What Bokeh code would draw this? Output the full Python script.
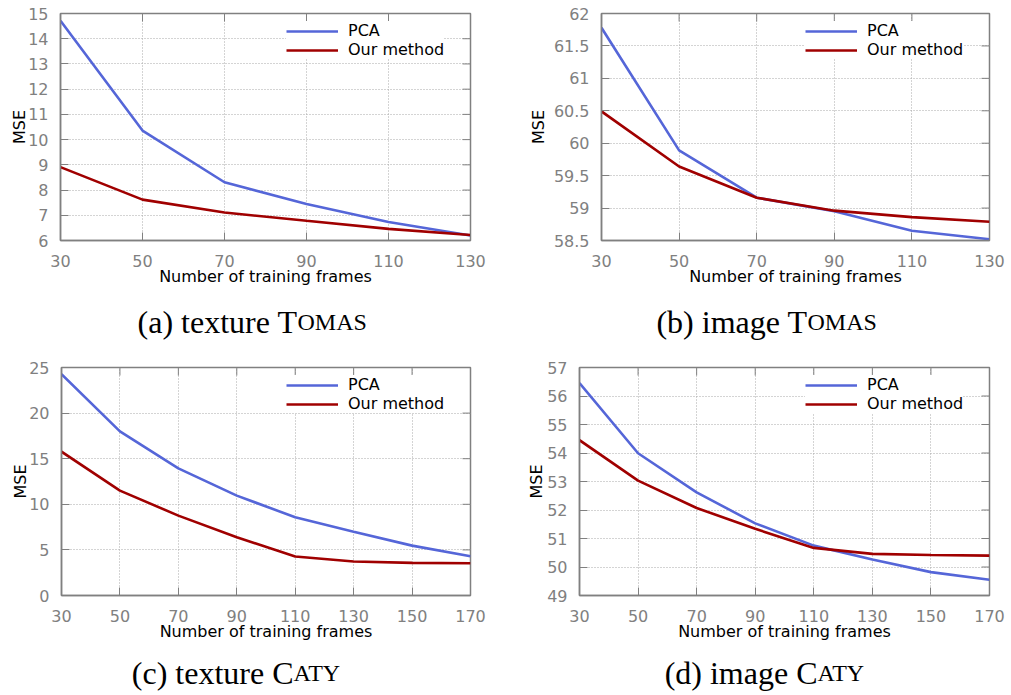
import math
from bokeh.plotting import figure
from bokeh.models import Range1d, FixedTicker
from bokeh.layouts import column, row
from bokeh.embed import file_html
from bokeh.resources import INLINE
from bokeh.core.properties import value

# ---------------- data ----------------
frames_tomas = [30, 50, 70, 90, 110, 130]
pca_tex_tomas = [14.71, 10.36, 8.31, 7.45, 6.73, 6.20]
our_tex_tomas = [8.91, 7.62, 7.11, 6.78, 6.46, 6.22]
pca_img_tomas = [61.78, 59.89, 59.16, 58.95, 58.65, 58.52]
our_img_tomas = [60.49, 59.64, 59.16, 58.96, 58.86, 58.79]

frames_caty = [30, 50, 70, 90, 110, 130, 150, 170]
pca_tex_caty = [24.27, 18.0, 13.94, 10.95, 8.58, 7.0, 5.47, 4.31]
our_tex_caty = [15.77, 11.5, 8.76, 6.39, 4.27, 3.72, 3.58, 3.54]
pca_img_caty = [56.45, 53.99, 52.62, 51.53, 50.75, 50.26, 49.82, 49.55]
our_img_caty = [54.45, 53.03, 52.07, 51.34, 50.67, 50.46, 50.42, 50.40]

xticks_tomas = [30, 50, 70, 90, 110, 130]
xticks_caty = [30, 50, 70, 90, 110, 130, 150, 170]
yticks_a = [6, 7, 8, 9, 10, 11, 12, 13, 14, 15]
yticks_b = [58.5, 59, 59.5, 60, 60.5, 61, 61.5, 62]
yticks_c = [0, 5, 10, 15, 20, 25]
yticks_d = [49, 50, 51, 52, 53, 54, 55, 56, 57]

series_names = ["PCA", "Our method"]
x_label = "Number of training frames"
y_label = "MSE"
captions = [("(a) texture T", "OMAS"), ("(b) image T", "OMAS"),
            ("(c) texture C", "ATY"), ("(d) image C", "ATY")]

BLUE = "#5566d8"
RED = "#a00000"
GRAY = "#808080"
SANS = "DejaVu Sans"


def fmt(v):
    return ("%g" % v)


def panel(xs, pca, ours, xticks, yticks, width, height, bl, br, bt, bb, ylab_sd):
    p = figure(width=width, height=height,
               x_range=Range1d(xticks[0], xticks[-1]),
               y_range=Range1d(yticks[0], yticks[-1]),
               output_backend="svg", toolbar_location=None,
               min_border_left=bl, min_border_right=br,
               min_border_top=bt, min_border_bottom=bb)
    p.background_fill_color = "white"
    p.border_fill_color = "white"
    p.outline_line_color = GRAY
    p.outline_line_width = 1.5

    xt = FixedTicker(ticks=xticks)
    yt = FixedTicker(ticks=yticks)

    for g, t in ((p.xgrid, xt), (p.ygrid, yt)):
        g.ticker = t
        g.grid_line_color = "#a8a8a8"
        g.grid_line_dash = "1 2"
        g.grid_line_width = 1

    # mirrored inward ticks on top and right edges (gnuplot style)
    p.ray(x=xticks, y=[yticks[-1]] * len(xticks), length=8, length_units="screen",
          angle=-math.pi / 2, line_color=GRAY, line_width=1)
    p.ray(x=[xticks[-1]] * len(yticks), y=yticks, length=8, length_units="screen",
          angle=math.pi, line_color=GRAY, line_width=1)

    p.line(xs, pca, color=BLUE, line_width=2.6, legend_label=series_names[0])
    p.line(xs, ours, color=RED, line_width=2.6, legend_label=series_names[1])

    xa = p.xaxis[0]
    ya = p.yaxis[0]
    xa.ticker = xt
    ya.ticker = yt
    xa.major_label_overrides = {v: fmt(v) for v in xticks}
    ya.major_label_overrides = {v: fmt(v) for v in yticks}
    for a in (xa, ya):
        a.axis_line_color = GRAY
        a.axis_line_width = 1.5
        a.major_tick_in = 8
        a.major_tick_out = 0
        a.major_tick_line_color = GRAY
        a.major_tick_line_width = 1
        a.minor_tick_line_color = None
        a.major_label_text_font = SANS
        a.major_label_text_font_size = "16px"
        a.major_label_text_color = GRAY
        a.axis_label_text_font = SANS
        a.axis_label_text_font_size = "16px"
        a.axis_label_text_font_style = "normal"
        a.axis_label_text_color = "black"
    xa.axis_label = x_label
    ya.axis_label = y_label
    xa.major_label_standoff = 14
    xa.axis_label_standoff = -3
    ya.major_label_standoff = 12
    ya.axis_label_standoff = ylab_sd

    lg = p.legend[0]
    lg.label_text_font = SANS
    lg.label_text_font_size = "16px"
    lg.label_text_color = "black"
    lg.glyph_width = 52
    lg.glyph_height = 16
    lg.label_height = 16
    lg.label_standoff = 10
    lg.spacing = 0
    lg.padding = 4
    lg.margin = 0
    lg.border_line_color = None
    lg.background_fill_color = "white"
    lg.background_fill_alpha = 1.0
    fw = width - bl - br
    fh = height - bt - bb
    lg.location = (fw - 14 - 170, fh - 0 - 46)
    return p


def caption(parts, width, height, xj, ybase):
    c = figure(width=width, height=height, x_range=Range1d(0, width),
               y_range=Range1d(0, height), output_backend="svg",
               toolbar_location=None, min_border=0,
               x_axis_type=None, y_axis_type=None)
    c.outline_line_color = None
    c.grid.visible = False
    c.text(x=[xj], y=[ybase], text=[parts[0]], text_align="right",
           text_baseline="alphabetic", text_font=value("Liberation Serif"),
           text_font_size="32px", text_color="black")
    c.text(x=[xj], y=[ybase], text=[parts[1]], text_align="left",
           text_baseline="alphabetic", text_font=value("Liberation Serif"),
           text_font_size="24px", text_color="black")
    return c


fa = panel(frames_tomas, pca_tex_tomas, our_tex_tomas, xticks_tomas, yticks_a,
           500, 290, 60, 30, 13, 50, -4)
fb = panel(frames_tomas, pca_img_tomas, our_img_tomas, xticks_tomas, yticks_b,
           511, 290, 101, 22, 13, 50, 3)
fc = panel(frames_caty, pca_tex_caty, our_tex_caty, xticks_caty, yticks_c,
           500, 295, 61, 30, 17, 50, -4)
fd = panel(frames_caty, pca_img_caty, our_img_caty, xticks_caty, yticks_d,
           511, 295, 79, 22, 17, 50, -2)

ca = caption(captions[0], 500, 60, 297, 29)
cb = caption(captions[1], 511, 60, 307, 29)
cc = caption(captions[2], 500, 50, 293, 23)
cd = caption(captions[3], 511, 50, 317, 23)

layout = column(row(fa, fb), row(ca, cb), row(fc, fd), row(cc, cd))

open("out.html", "w").write(file_html(layout, INLINE))
